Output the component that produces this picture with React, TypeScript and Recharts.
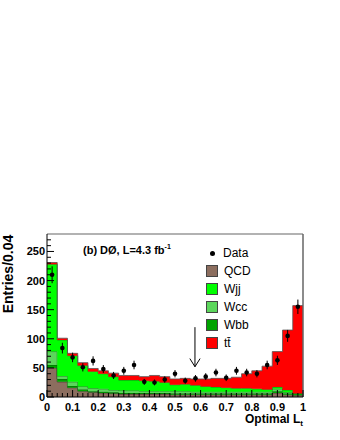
import React from 'react'
import { ComposedChart, Area, Scatter, ErrorBar, XAxis, YAxis, ReferenceLine } from 'recharts'

// 25 bins of width 0.04 on Optimal L_t, stacked MC (bottom to top) plus data
const binWidth = 0.04
const qcd = [50, 26, 16, 10, 8, 7, 6, 5, 5, 5, 5, 5, 4, 4, 4, 4, 4, 4, 4, 4, 4, 4, 7, 4, 3]
const wbb = [5, 5, 3, 3, 2, 2, 2, 2, 2, 2, 2, 2, 2, 2, 2, 2, 2, 2, 2, 2, 2, 2, 3, 2, 3]
const wcc = [23, 5, 7, 5, 5, 5, 4, 4, 4, 3, 3, 3, 4, 4, 3, 3, 3, 3, 3, 3, 3, 3, 4, 2, 0]
const wjj = [150, 62, 45, 36, 29, 26, 23, 18, 18, 18, 17, 15, 11, 12, 11, 9, 8, 7, 6, 6, 5, 4, 3, 4, 0]
const ttbar = [3, 3, 4, 5, 5, 5, 6, 8, 8, 7, 10, 10, 10, 10, 11, 13, 15, 16, 19, 25, 31, 40, 61, 103, 151]
const dataCounts = [210, 84, 68, 51, 62, 48, 37, 45, 55, 26, 25, 30, 40, 28, 32, 35, 42, 33, 45, 42, 40, 55, 63, 105, 155]
const dataErrors = [14.5, 9.2, 8.2, 7.1, 7.9, 6.9, 6.1, 6.7, 7.4, 5.1, 5.0, 5.5, 6.3, 5.3, 5.7, 5.9, 6.5, 5.7, 6.7, 6.5, 6.3, 7.4, 7.9, 10.2, 12.4]

const legendItems = [
  { name: 'QCD', color: '#8c6e5f' },
  { name: 'Wjj', color: '#00ff00' },
  { name: 'Wcc', color: '#5cd65c' },
  { name: 'Wbb', color: '#00a300' },
  { name: 't\u0074\u0304', color: '#ff0000' },
]

const histRows = Array.from({ length: qcd.length + 1 }, (_, i) => {
  const k = Math.min(i, qcd.length - 1)
  return { x: i * binWidth, qcd: qcd[k], wbb: wbb[k], wcc: wcc[k], wjj: wjj[k], tt: ttbar[k] }
})

const dataRows = dataCounts.map((n, i) => ({ x: (i + 0.5) * binWidth, y: n, err: dataErrors[i] }))

const xTicks = Array.from({ length: 51 }, (_, i) => i / 50)
const yTicks = Array.from({ length: 28 }, (_, i) => i * 10)

const font = '"Liberation Sans", Arial, sans-serif'

const XTick = (props: any) => {
  const { x, y, payload } = props
  const v = payload.value
  const major = Math.abs(v * 10 - Math.round(v * 10)) < 1e-6
  const label = v === 0 ? '0' : v === 1 ? '1' : v.toFixed(1)
  return (
    <g>
      <line x1={x} x2={x} y1={y} y2={y - (major ? 7 : 4)} stroke="#000" strokeWidth={1} />
      {major && (
        <text x={x} y={y + 14} textAnchor="middle" fontSize={11} fontWeight="bold" fontFamily={font} fill="#000">
          {label}
        </text>
      )}
    </g>
  )
}

const YTick = (props: any) => {
  const { x, y, payload } = props
  const v = payload.value
  const major = v % 50 === 0
  return (
    <g>
      <line x1={x} x2={x + (major ? 7 : 4)} y1={y} y2={y} stroke="#000" strokeWidth={1} />
      {major && (
        <text x={x - 2} y={y + 4} textAnchor="end" fontSize={11} fontWeight="bold" fontFamily={font} fill="#000">
          {v}
        </text>
      )}
    </g>
  )
}

const Dot = (p: any) => <circle cx={p.cx} cy={p.cy} r={2.3} fill="#000" />

export default function App() {
  return (
    <div style={{ position: 'absolute', left: 0, top: 0, width: 340, height: 440, background: '#fff', fontFamily: font }}>
      <ComposedChart width={340} height={440} data={histRows} margin={{ top: 234, right: 37, bottom: 13, left: 7 }}>
        <XAxis
          type="number"
          dataKey="x"
          domain={[0, 1]}
          ticks={xTicks}
          interval={0}
          tick={<XTick />}
          tickLine={false}
          tickSize={0}
          tickMargin={0}
          height={30}
          axisLine={{ stroke: '#000' }}
          allowDataOverflow
        />
        <YAxis
          type="number"
          domain={[0, 280]}
          ticks={yTicks}
          interval={0}
          tick={<YTick />}
          tickLine={false}
          tickSize={0}
          tickMargin={0}
          width={40}
          axisLine={{ stroke: '#000' }}
          allowDataOverflow
        />
        <Area type="stepAfter" dataKey="qcd" stackId="mc" fill="#8c6e5f" fillOpacity={1} stroke="#3a2a22" strokeWidth={0.8} isAnimationActive={false} />
        <Area type="stepAfter" dataKey="wbb" stackId="mc" fill="#00a300" fillOpacity={1} stroke="#004d00" strokeWidth={0.8} isAnimationActive={false} />
        <Area type="stepAfter" dataKey="wcc" stackId="mc" fill="#5cd65c" fillOpacity={1} stroke="#1f6b1f" strokeWidth={0.8} isAnimationActive={false} />
        <Area type="stepAfter" dataKey="wjj" stackId="mc" fill="#00ff00" fillOpacity={1} stroke="#1a7a1a" strokeWidth={0.8} isAnimationActive={false} />
        <Area type="stepAfter" dataKey="tt" stackId="mc" fill="#ff0000" fillOpacity={1} stroke="#555" strokeWidth={0.8} isAnimationActive={false} />
        <ReferenceLine y={280} stroke="#999" strokeWidth={1.5} ifOverflow="visible" />
        <ReferenceLine x={1} stroke="#666" strokeWidth={1.5} ifOverflow="visible" />
        <ReferenceLine segment={[{ x: 0.578, y: 120 }, { x: 0.578, y: 52 }]} stroke="#000" strokeWidth={1} ifOverflow="visible" />
        <ReferenceLine segment={[{ x: 0.578, y: 52 }, { x: 0.558, y: 66 }]} stroke="#000" strokeWidth={1} ifOverflow="visible" />
        <ReferenceLine segment={[{ x: 0.578, y: 52 }, { x: 0.598, y: 66 }]} stroke="#000" strokeWidth={1} ifOverflow="visible" />
        <Scatter data={dataRows} dataKey="y" fill="#000" shape={<Dot />} isAnimationActive={false}>
          <ErrorBar dataKey="err" direction="y" width={0} stroke="#000" strokeWidth={1} />
        </Scatter>
      </ComposedChart>

      <div style={{ position: 'absolute', left: 83, top: 243, fontSize: 11, fontWeight: 'bold', whiteSpace: 'nowrap' }}>
        (b) DØ, L=4.3 fb<sup style={{ fontSize: 7 }}>-1</sup>
      </div>

      <div
        style={{
          position: 'absolute',
          left: 8,
          top: 274,
          transform: 'translate(-50%, -50%) rotate(-90deg)',
          fontSize: 14,
          fontWeight: 'bold',
          whiteSpace: 'nowrap',
        }}
      >
        Entries/0.04
      </div>

      <div style={{ position: 'absolute', right: 37, top: 413, fontSize: 12, lineHeight: '12px', fontWeight: 'bold', whiteSpace: 'nowrap' }}>
        Optimal L<sub style={{ fontSize: 8, lineHeight: '8px' }}>t</sub>
      </div>

      <div style={{ position: 'absolute', left: 206, top: 244, fontSize: 12 }}>
        <div style={{ height: 18, display: 'flex', alignItems: 'center' }}>
          <span style={{ width: 13, display: 'flex', justifyContent: 'center' }}>
            <span style={{ width: 5, height: 5, borderRadius: 3, background: '#000' }} />
          </span>
          <span style={{ marginLeft: 4 }}>Data</span>
        </div>
        {legendItems.map(it => (
          <div key={it.name} style={{ height: 18, display: 'flex', alignItems: 'center' }}>
            <span style={{ width: 10, height: 10, background: it.color, border: '0.5px solid #444' }} />
            <span style={{ marginLeft: 6 }}>{it.name}</span>
          </div>
        ))}
      </div>
    </div>
  )
}
